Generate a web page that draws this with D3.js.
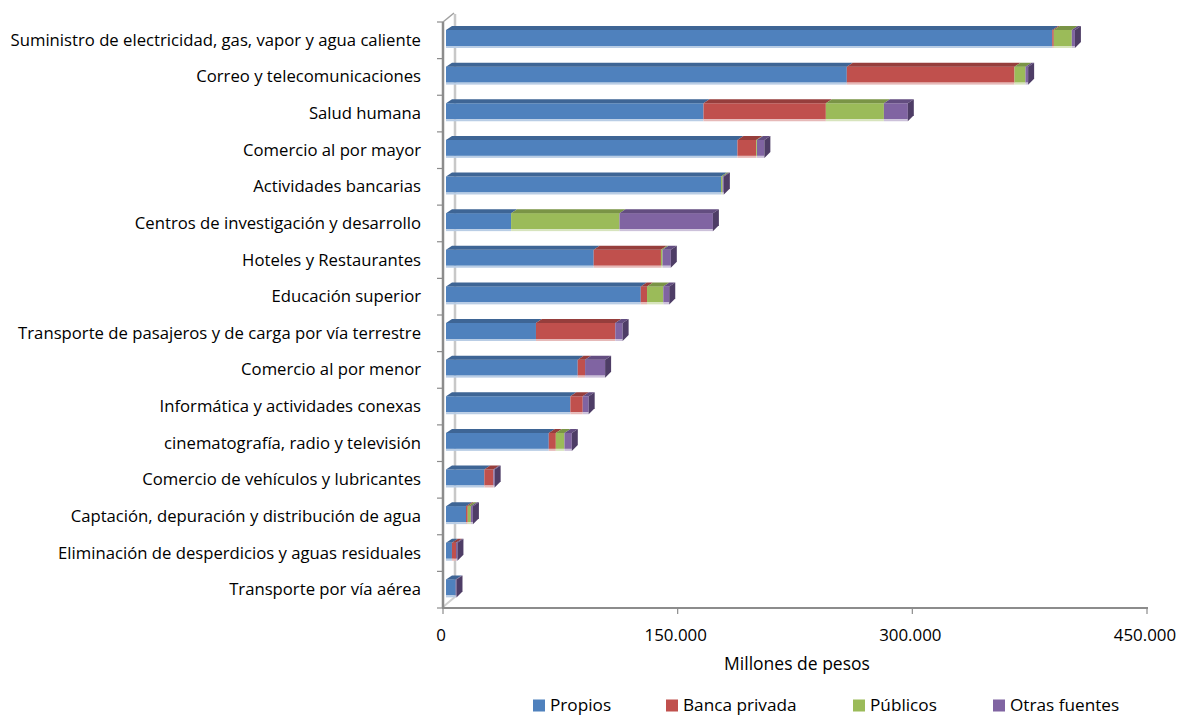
<!DOCTYPE html>
<html><head><meta charset="utf-8">
<script src="https://cdn.jsdelivr.net/npm/d3@7"></script>
<style>body{margin:0;background:#fff}svg{display:block}text{font-family:"Open Sans","Liberation Sans",Arial,sans-serif;fill:#000}</style>
</head><body><svg id="c" width="1179" height="716"></svg>
<script>
const categories = ["Suministro de electricidad, gas, vapor y agua caliente","Correo y telecomunicaciones","Salud humana","Comercio al por mayor","Actividades bancarias","Centros de investigación y desarrollo","Hoteles y Restaurantes","Educación superior","Transporte de pasajeros y de carga por vía terrestre","Comercio al por menor","Informática y actividades conexas","cinematografía, radio y televisión","Comercio de vehículos  y lubricantes","Captación, depuración y distribución de agua","Eliminación de desperdicios  y aguas residuales","Transporte por vía aérea"];
const seriesNames = ["Propios","Banca privada","Públicos","Otras fuentes"];
const propios  = [387500,256200,164600,186300,175800,41600,94400,124500,57500,84200,79500,65700,24500,12800,3800,6200];
const banca    = [1000,107200,78200,12000,0,0,43000,4000,50700,4700,7900,4500,5800,1100,2600,0];
const publicos = [11500,7000,37100,500,1000,69300,1000,10400,0,0,0,5500,0,2000,0,0];
const otras    = [2000,1700,15300,4700,800,59700,5300,3800,4700,12800,3800,4700,800,1300,900,500];
const tickValues = [0,150000,300000,450000];
const tickLabels = ["0","150.000","300.000","450.000"];

const front = ["#4F81BD","#C0504D","#9BBB59","#8064A2"];
const topC  = ["#3E6595","#963E3C","#7A9446","#634D80"];
const sideC = ["#33547C","#7B3331","#647A39","#4E3D66"];
const lightC= ["#B9CDE5","#E6B9B8","#D7E4BD","#CCC1DA"];

const svg = d3.select("#c");
const xAxis = d3.scaleLinear().domain([0,450000]).range([443,1147]);
const xBar  = d3.scaleLinear().domain([0,450000]).range([446,1150]);
const y = d3.scaleBand().domain(categories).range([22,608]).paddingInner(0).paddingOuter(0);
const dx = 6, dy = 4;

// back wall lines
const g0 = svg.append("g");
g0.append("line").attr("x1",455).attr("x2",455).attr("y1",14).attr("y2",596).attr("stroke","#C8C8C8").attr("stroke-width",2.5);
g0.append("line").attr("x1",443).attr("y1",607).attr("x2",456).attr("y2",596).attr("stroke","#D0D0D0").attr("stroke-width",2);
g0.append("line").attr("x1",443).attr("y1",22).attr("x2",454).attr("y2",13).attr("stroke","#A0A0A0").attr("stroke-width",1.5);

// bars
const data = categories.map((c,i)=>({c, vals:[propios[i],banca[i],publicos[i],otras[i]]}));
const gb = svg.append("g");
data.forEach(d=>{
  const b = y(d.c);
  const yT = b+8, yB = b+24;
  let acc = 0, last = -1;
  const segs = d.vals.map((v,k)=>{const s={k,x0:xBar(acc),x1:xBar(acc+v),v}; acc+=v; if(v>0) last=k; return s;});
  segs.filter(s=>s.v>0).forEach(s=>{
    gb.append("rect").attr("x",s.x0).attr("y",yT).attr("width",s.x1-s.x0).attr("height",yB-yT).attr("fill",front[s.k]);
    gb.append("rect").attr("x",s.x0).attr("y",yB).attr("width",s.x1-s.x0).attr("height",2).attr("fill",lightC[s.k]);
    gb.append("polygon").attr("points",[[s.x0,yT],[s.x1,yT],[s.x1+dx,yT-dy],[s.x0+dx,yT-dy]].map(p=>p.join(",")).join(" ")).attr("fill",topC[s.k]);
  });
  const s = segs[last];
  gb.append("polygon").attr("points",[[s.x1,yT],[s.x1+dx,yT-dy],[s.x1+dx,yB-dy],[s.x1,yB+2]].map(p=>p.join(",")).join(" ")).attr("fill",sideC[s.k]);
});

// left axis
const ga = svg.append("g");
ga.append("line").attr("x1",443).attr("x2",443).attr("y1",22).attr("y2",608).attr("stroke","#8C8C8C").attr("stroke-width",2.5);
categories.concat(["__end"]).forEach((c,i)=>{
  const yy = i<categories.length ? y(c) : 608;
  ga.append("line").attr("x1",437).attr("x2",443).attr("y1",yy).attr("y2",yy).attr("stroke","#8C8C8C").attr("stroke-width",1.2);
});
categories.forEach(c=>{
  ga.append("text").attr("x",421).attr("y",y(c)+y.bandwidth()/2+5.5).attr("text-anchor","end").attr("font-size",16.7).text(c);
});

// bottom axis
const gx = svg.append("g");
gx.append("line").attr("x1",442).attr("x2",1148).attr("y1",608).attr("y2",608).attr("stroke","#8C8C8C").attr("stroke-width",2);
tickValues.forEach((v,i)=>{
  gx.append("line").attr("x1",xAxis(v)).attr("x2",xAxis(v)).attr("y1",608).attr("y2",614).attr("stroke","#8C8C8C").attr("stroke-width",1.2);
  gx.append("text").attr("x",xAxis(v)-2).attr("y",641).attr("text-anchor","middle").attr("font-size",16.9).text(tickLabels[i]);
});
gx.append("text").attr("x",797).attr("y",670).attr("text-anchor","middle").attr("font-size",17.5).text("Millones de pesos");

// legend
const legX = [533,666,853,993];
const gl = svg.append("g");
seriesNames.forEach((n,k)=>{
  gl.append("rect").attr("x",legX[k]).attr("y",699.5).attr("width",12).attr("height",12).attr("fill",front[k]);
  gl.append("text").attr("x",legX[k]+17).attr("y",711).attr("font-size",17.2).text(n);
});
</script></body></html>
